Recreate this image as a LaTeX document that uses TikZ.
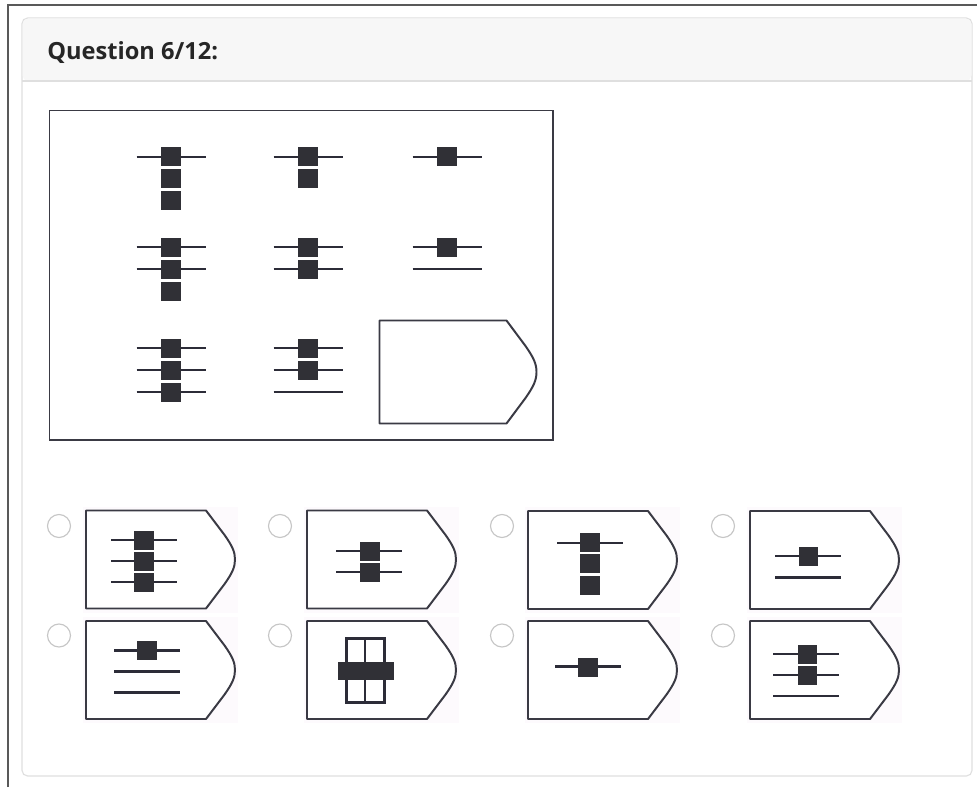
\documentclass[tikz,border=0pt]{standalone}
\usepackage{fontspec}
\newfontfamily\headfont{Open Sans}
\definecolor{sqfill}{HTML}{303036}
\definecolor{plinec}{HTML}{2C2C38}
\definecolor{tagc}{HTML}{3A3A44}
\definecolor{cardb}{HTML}{DFDFDF}
\definecolor{headbg}{HTML}{F7F7F7}
\definecolor{optbg}{HTML}{FDFAFD}
\definecolor{radioc}{HTML}{C6C6C6}
\tikzset{
  pline/.style={draw=plinec, line width=1.7pt},
  tagline/.style={draw=tagc, line width=1.4pt, line join=round},
  sqbox/.style={fill=sqfill},
  radio/.style={draw=radioc, line width=0.8pt, fill=white},
}
% horizontal bar line: center x, y, half width
\newcommand\hbarline[3]{\draw[pline] ({#1-#3},#2) -- ({#1+#3},#2);}
% square: center x, y
\newcommand\sqr[2]{\fill[sqbox] ({#1-9.8},{#2-9.5}) rectangle ({#1+9.8},{#2+9.5});}
% tag: left, top, width, height, tip depth
\newcommand\tagshape[5]{\draw[tagline, fill=white] (#1,#2) -- ({#1+#3},#2) -- ({#1+#3+0.64*#5},{#2+0.25*#4}) .. controls ({#1+#3+0.9*#5},{#2+0.36*#4}) and ({#1+#3+#5},{#2+0.42*#4}) .. ({#1+#3+#5},{#2+0.5*#4}) .. controls ({#1+#3+#5},{#2+0.58*#4}) and ({#1+#3+0.9*#5},{#2+0.64*#4}) .. ({#1+#3+0.64*#5},{#2+0.75*#4}) -- ({#1+#3},{#2+#4}) -- (#1,{#2+#4}) -- cycle;}
\newcommand\opttag[2]{\fill[optbg] ({#1-3},{#2-4}) rectangle ({#1+152},{#2+102});\tagshape{#1}{#2}{120}{98}{29}}
\begin{document}
\begin{tikzpicture}[x=0.025cm, y=-0.025cm]
\useasboundingbox (0,0) rectangle (977,787);
\fill[white] (0,0) rectangle (977,787);
% outer window lines
\draw[draw=black!65, line width=0.8pt] (8,787) -- (8,5) -- (977,5);
% card
\draw[draw=cardb, line width=0.8pt, fill=white, rounded corners=4] (22,18) rectangle (972,776);
\fill[headbg, rounded corners=4] (22.5,18.5) -- (971.5,18.5) -- (971.5,81) -- (22.5,81) -- cycle;
\draw[draw=cardb, line width=0.8pt] (22,81) -- (972,81);
\node[anchor=base west, inner sep=0pt, font=\headfont\bfseries\fontsize{16.8}{20}\selectfont, text=black!85] (title) at (47,60) {Question 6/12:};
% puzzle box
\draw[draw=tagc, line width=1.4pt] (49.5,110.5) rectangle (553,440);
% row 1
\hbarline{171}{157}{34.5} \sqr{171}{157} \sqr{171}{179} \sqr{171}{201}
\hbarline{308}{157}{34.5} \sqr{308}{157} \sqr{308}{179}
\hbarline{447}{157}{34.5} \sqr{447}{157}
% row 2
\hbarline{171}{247}{34.5} \hbarline{171}{269}{34.5} \sqr{171}{247} \sqr{171}{269} \sqr{171}{291}
\hbarline{308}{247}{34.5} \hbarline{308}{269}{34.5} \sqr{308}{247} \sqr{308}{269}
\hbarline{447}{247}{34.5} \hbarline{447}{269}{34.5} \sqr{447}{247}
% row 3
\hbarline{171}{348}{34.5} \hbarline{171}{370}{34.5} \hbarline{171}{392}{34.5} \sqr{171}{348} \sqr{171}{370} \sqr{171}{392}
\hbarline{308}{348}{34.5} \hbarline{308}{370}{34.5} \hbarline{308}{392}{34.5} \sqr{308}{348} \sqr{308}{370}
\tagshape{379.5}{320.5}{127}{103}{30}
% radio buttons
\foreach \rx/\ry in {59/526, 280/526, 502/526, 723/526, 59/635.5, 280/635.5, 502/635.5, 723/635.5}
  \draw[radio] (\rx,\ry) circle (11.5);
% option tags
\opttag{86}{510.5} \opttag{307}{510.5} \opttag{528}{511} \opttag{750}{511}
\opttag{86}{621} \opttag{307}{621} \opttag{528}{621} \opttag{750}{621}
% option 1
\hbarline{144}{540}{33} \hbarline{144}{561}{33} \hbarline{144}{582}{33}
\sqr{144}{540} \sqr{144}{561} \sqr{144}{582}
% option 2
\hbarline{369}{551}{33} \hbarline{369}{572}{33}
\sqr{370}{551} \sqr{370}{572}
% option 3
\hbarline{590}{543}{33}
\sqr{590}{542.5} \sqr{590}{563.5} \sqr{590}{585}
% option 4
\hbarline{808}{556}{33} \hbarline{808}{577.5}{33}
\sqr{808.5}{556}
% option 5
\hbarline{147}{650.5}{33} \hbarline{147}{671.5}{33} \hbarline{147}{692.5}{33}
\sqr{147}{650.5}
% option 6
\draw[draw=plinec, line width=1.6pt] (346.5,638.5) rectangle (365,702.5);
\draw[draw=plinec, line width=1.6pt] (365,638.5) rectangle (384.5,702.5);
\fill[sqbox] (337.5,661.5) rectangle (393.5,679.5);
% option 7
\hbarline{588}{666.5}{33}
\sqr{588}{667}
% option 8
\hbarline{806}{654}{33} \hbarline{806}{675}{33} \hbarline{806}{696}{33}
\sqr{807.5}{654} \sqr{807.5}{675}
\end{tikzpicture}
\end{document}
